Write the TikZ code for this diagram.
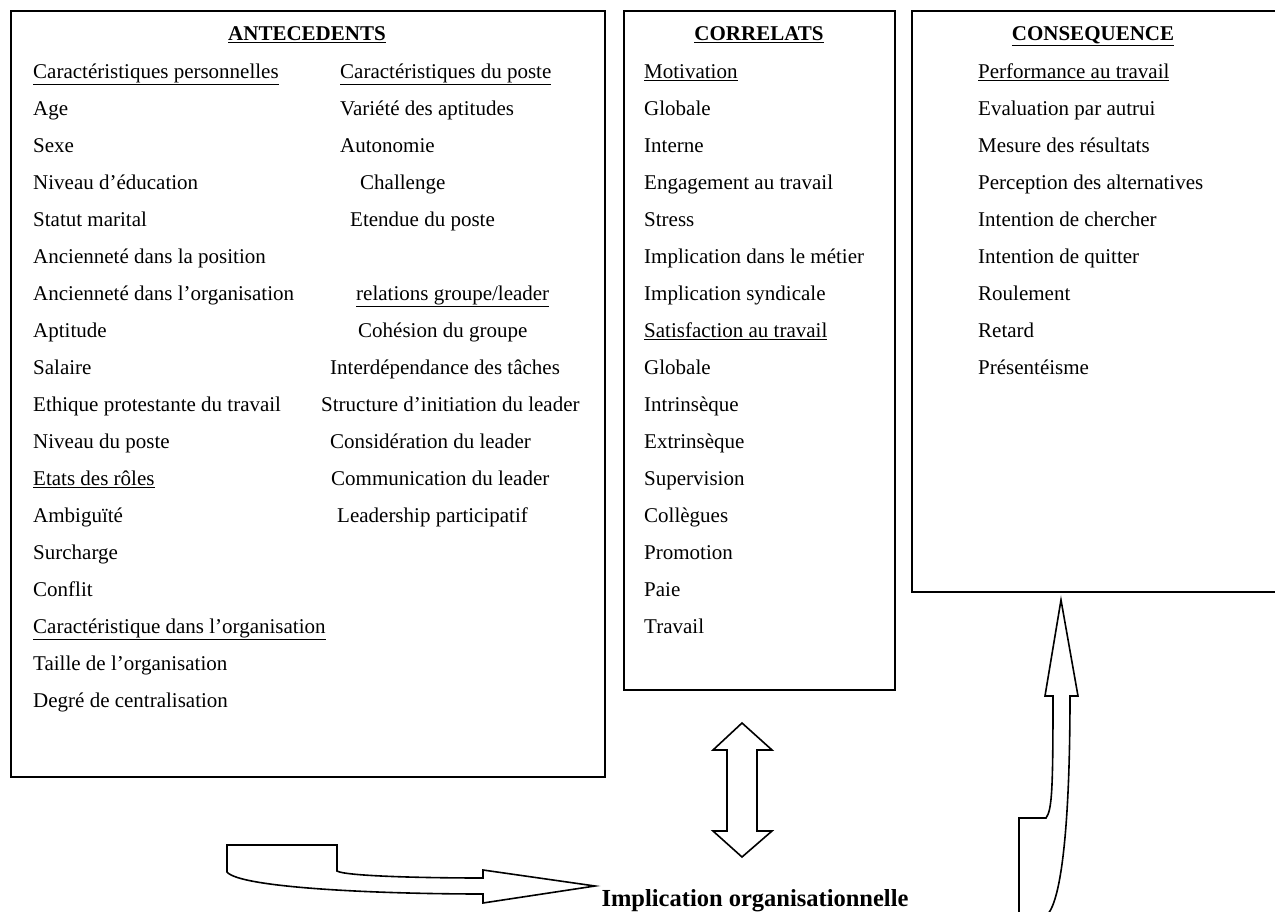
\documentclass[tikz,border=0pt]{standalone}
\usepackage{fontspec}
\setmainfont{Liberation Serif}
\begin{document}
\begin{tikzpicture}[x=1pt,y=-1pt,
  frame/.style={draw=black,line width=2.2pt},
  item/.style={anchor=mid west,inner sep=0pt,font=\fontsize{21}{25}\selectfont},
  head/.style={anchor=mid,inner sep=0pt,font=\fontsize{21}{25}\selectfont\bfseries},
  blockarrow/.style={draw=black,fill=white,line width=1.6pt,line join=miter}]
\useasboundingbox (0,0) rectangle (1275,912);
\clip (0,0) rectangle (1275,912);

% the three boxes
\draw[frame] (11,11) rectangle (605,777);
\draw[frame] (624,11) rectangle (895,690);
\draw[frame] (912,11) rectangle (1290,592);

% ANTECEDENTS
\node[head] (hA) at (307,38) {\underline{ANTECEDENTS}};
\foreach \t [count=\i] in {
  {\underline{Caractéristiques personnelles}},Age,Sexe,{Niveau d’éducation},
  {Statut marital},{Ancienneté dans la position},{Ancienneté dans l’organisation},
  Aptitude,Salaire,{Ethique protestante du travail},{Niveau du poste},
  {\underline{Etats des rôles}},Ambiguïté,Surcharge,Conflit,
  {\underline{Caractéristique dans l’organisation}},{Taille de l’organisation},
  {Degré de centralisation}}
  \node[item] (a\i) at (33,{76+37*(\i-1)}) {\t};

\foreach \t/\x/\r in {
  {\underline{Caractéristiques du poste}}/340/1,
  {Variété des aptitudes}/340/2,
  Autonomie/340/3,
  Challenge/360/4,
  {Etendue du poste}/350/5,
  {\underline{relations groupe/leader}}/356/7,
  {Cohésion du groupe}/358/8,
  {Interdépendance des tâches}/330/9,
  {Structure d’initiation du leader}/321/10,
  {Considération du leader}/330/11,
  {Communication du leader}/331/12,
  {Leadership participatif}/337/13}
  \node[item] (b\r) at (\x,{76+37*(\r-1)}) {\t};

% CORRELATS
\node[head] (hC) at (759,38) {\underline{CORRELATS}};
\foreach \t [count=\i] in {
  {\underline{Motivation}},Globale,Interne,{Engagement au travail},Stress,
  {Implication dans le métier},{Implication syndicale},
  {\underline{Satisfaction au travail}},Globale,Intrinsèque,Extrinsèque,
  Supervision,Collègues,Promotion,Paie,Travail}
  \node[item] (c\i) at (644,{76+37*(\i-1)}) {\t};

% CONSEQUENCE
\node[head] (hQ) at (1093,38) {\underline{CONSEQUENCE}};
\foreach \t [count=\i] in {
  {\underline{Performance au travail}},{Evaluation par autrui},
  {Mesure des résultats},{Perception des alternatives},
  {Intention de chercher},{Intention de quitter},Roulement,Retard,Présentéisme}
  \node[item] (q\i) at (978,{76+37*(\i-1)}) {\t};

% central concept
\node[anchor=mid,inner sep=0pt,font=\fontsize{24.5}{28}\selectfont\bfseries]
  (imp) at (755,904) {Implication organisationnelle};

% bent arrow from the antecedents
\draw[blockarrow] (227,845) -- (337,845) -- (337,871)
  .. controls (345,876) and (420,878) .. (483,878)
  -- (483,870) -- (595,886) -- (483,903) -- (483,894)
  .. controls (380,894) and (240,888) .. (227,872) -- cycle;

% double arrow towards the correlates
\draw[blockarrow] (742,723) -- (772,750) -- (757,750) -- (757,831)
  -- (772,831) -- (742,857) -- (713,831) -- (727,831) -- (727,750)
  -- (713,750) -- cycle;

% rising arrow towards the consequences
\draw[blockarrow] (1019,915) -- (1019,818) -- (1046,818)
  .. controls (1052,810) and (1053,790) .. (1053,696)
  -- (1045,696) -- (1061,600) -- (1078,696) -- (1070,696)
  .. controls (1070,820) and (1062,900) .. (1047,915);
\end{tikzpicture}
\end{document}
